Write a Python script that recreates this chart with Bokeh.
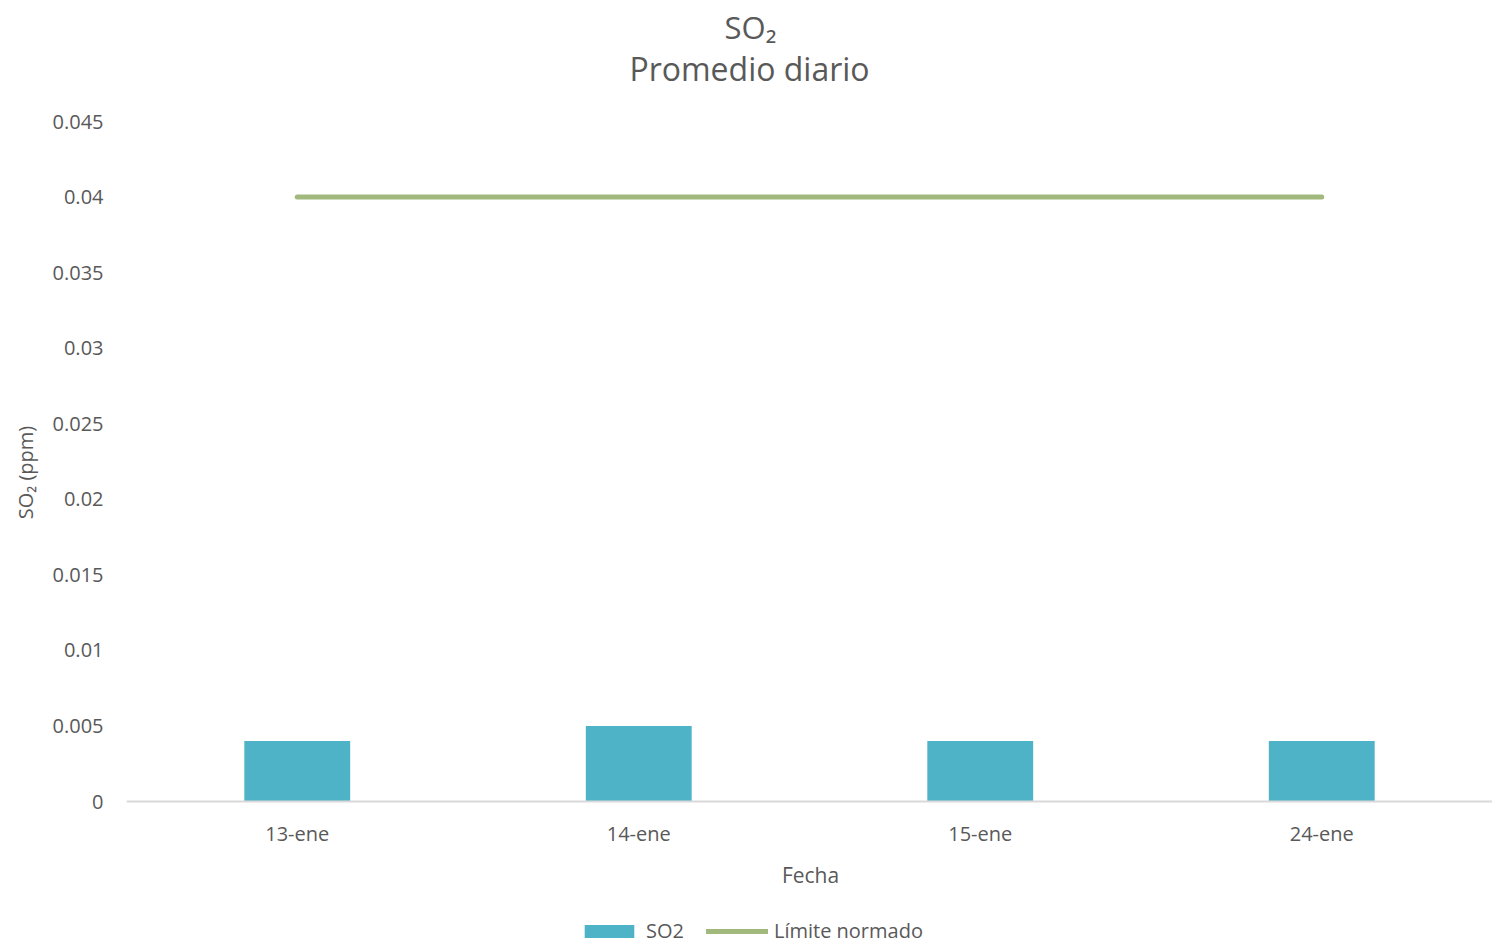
from bokeh.plotting import figure
from bokeh.models import (Range1d, FixedTicker, PrintfTickFormatter, Label,
                          Legend, LegendItem, FactorRange, Span)
from bokeh.embed import file_html
from bokeh.resources import INLINE

fechas = ["13-ene", "14-ene", "15-ene", "24-ene"]
so2 = [0.004, 0.005, 0.004, 0.004]
limite = [0.04, 0.04, 0.04, 0.04]
y_ticks = [0, 0.005, 0.01, 0.015, 0.02, 0.025, 0.03, 0.035, 0.04, 0.045]

FONT = "Open Sans"
TXT = "#595959"

# layout (pixels)
W, H = 1492, 944
LEFT = 126           # left edge of the plotting area
TOP_PX = 121         # pixel row of the axis maximum
ZERO_PX = 801        # pixel row of the zero line
YMAX = 0.045
s = YMAX / (ZERO_PX - TOP_PX)   # data units per pixel

p = figure(x_range=FactorRange(factors=fechas, range_padding=0),
           y_range=Range1d(-(H - ZERO_PX) * s, YMAX + TOP_PX * s),
           width=W, height=H, output_backend="svg", toolbar_location=None,
           min_border_left=LEFT, min_border_right=0, min_border_top=0,
           min_border_bottom=0)
p.title = None
p.outline_line_color = None
p.xgrid.visible = False
p.ygrid.visible = False
p.xaxis.visible = False
p.background_fill_color = "white"
p.border_fill_color = "white"

bars = p.vbar(x=fechas, top=so2, width=0.31, color="#4FB3C8", line_color=None)
line = p.line(x=fechas, y=limite, line_color="#A2B97D", line_width=5, line_cap="round")

# horizontal category axis line
p.add_layout(Span(location=0, dimension="width", line_color="#D9D9D9", line_width=2))

# category labels
p.text(x=fechas, y=[0] * len(fechas), text=fechas, y_offset=32,
       text_align="center", text_baseline="middle",
       text_font={"value": FONT}, text_font_size="20px", text_color=TXT)

# y axis
yax = p.yaxis[0]
yax.ticker = FixedTicker(ticks=y_ticks)
yax.formatter = PrintfTickFormatter(format="%g")
yax.axis_line_color = None
yax.major_tick_line_color = None
yax.minor_tick_line_color = None
yax.major_label_standoff = 17
yax.major_label_text_font = FONT
yax.major_label_text_font_size = "20px"
yax.major_label_text_color = TXT
yax.axis_label = "SO₂ (ppm)"
yax.axis_label_text_font = FONT
yax.axis_label_text_font_size = "20px"
yax.axis_label_text_font_style = "normal"
yax.axis_label_text_color = TXT
yax.axis_label_standoff = 11

# x axis title
p.add_layout(Label(x=810 - LEFT, y=H - 874, x_units="screen", y_units="screen",
                   text="Fecha", text_align="center", text_baseline="middle",
                   text_font=FONT, text_font_size="21px", text_color=TXT))

# chart titles
p.add_layout(Label(x=750 - LEFT, y=H - 26, x_units="screen", y_units="screen",
                   text="SO₂", text_align="center", text_baseline="middle",
                   text_font=FONT, text_font_size="31px", text_color=TXT))
p.add_layout(Label(x=749 - LEFT, y=H - 68, x_units="screen", y_units="screen",
                   text="Promedio diario", text_align="center", text_baseline="middle",
                   text_font=FONT, text_font_size="32px", text_color=TXT))

legend = Legend(items=[LegendItem(label="SO2", renderers=[bars]),
                       LegendItem(label="Límite normado", renderers=[line])],
                orientation="horizontal", location=(578 - LEFT, 0),
                border_line_color=None, background_fill_alpha=0,
                label_text_font=FONT, label_text_font_size="20px",
                label_text_color=TXT, glyph_width=62, glyph_height=16,
                label_standoff=6, spacing=22, padding=5, margin=0)
p.add_layout(legend, "center")

open("out.html", "w").write(file_html(p, INLINE))
